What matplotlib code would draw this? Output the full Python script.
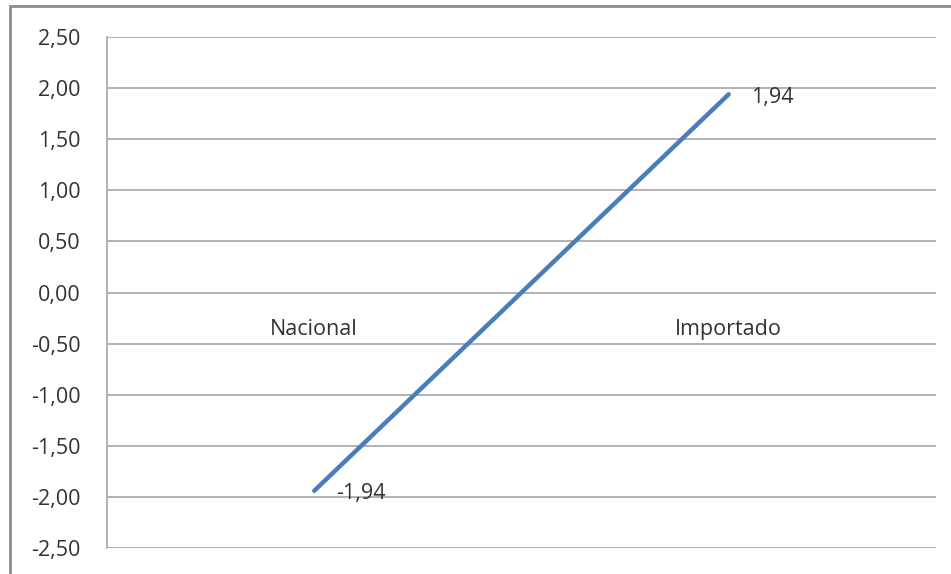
import matplotlib.pyplot as plt
from matplotlib.patches import Rectangle

# Data
categories = ['Nacional', 'Importado']
values = [-1.94, 1.94]
y_ticks = [-2.5, -2.0, -1.5, -1.0, -0.5, 0.0, 0.5, 1.0, 1.5, 2.0, 2.5]

plt.rcParams['font.family'] = ['Open Sans', 'DejaVu Sans']
grey = '#a6a6a6'
txt = '#333333'

fig = plt.figure(figsize=(9.51, 5.74), dpi=100)
ax = fig.add_axes([0.1125, 0.0453, 0.8717, 0.8902])

# Category labels sit just below the zero line, like Excel does
ax.spines['bottom'].set_position(('data', 0))
ax.spines['bottom'].set_color('none')
ax.spines['top'].set_visible(False)
ax.spines['right'].set_visible(False)
ax.spines['left'].set_color(grey)
ax.spines['left'].set_linewidth(1.2)

x = list(range(len(categories)))
ax.plot(x, values, color='#4a7ebb', linewidth=3.2, solid_capstyle='round')

# Data labels to the right of each point
for xi, v in zip(x, values):
    ax.annotate(f'{v:.2f}'.replace('.', ','), (xi, v), textcoords='offset points',
                xytext=(16, -2), ha='left', va='center', fontsize=15.5, color=txt)

ax.set_xlim(-0.5, 1.5)
ax.set_ylim(-2.5, 2.5)
ax.set_yticks(y_ticks)
ax.set_yticklabels([f'{t:.2f}'.replace('.', ',') for t in y_ticks], fontsize=15.5, color=txt)
ax.set_xticks(x)
ax.set_xticklabels(categories, fontsize=15.5, color=txt)
ax.tick_params(axis='y', length=0, pad=19)
ax.tick_params(axis='x', length=0, pad=19)

# Horizontal gridlines
ax.grid(axis='y', color=grey, linewidth=1.2)
ax.set_axisbelow(True)

# Outer chart frame (cut off on the right and bottom)
frame = Rectangle((10 / 951, -0.05), 1.05, 0.05 + (574 - 6) / 574, transform=fig.transFigure,
                  fill=False, edgecolor='#8c8c8c', linewidth=2, clip_on=False)
fig.patches.append(frame)

fig.savefig('out.png', dpi=100)
